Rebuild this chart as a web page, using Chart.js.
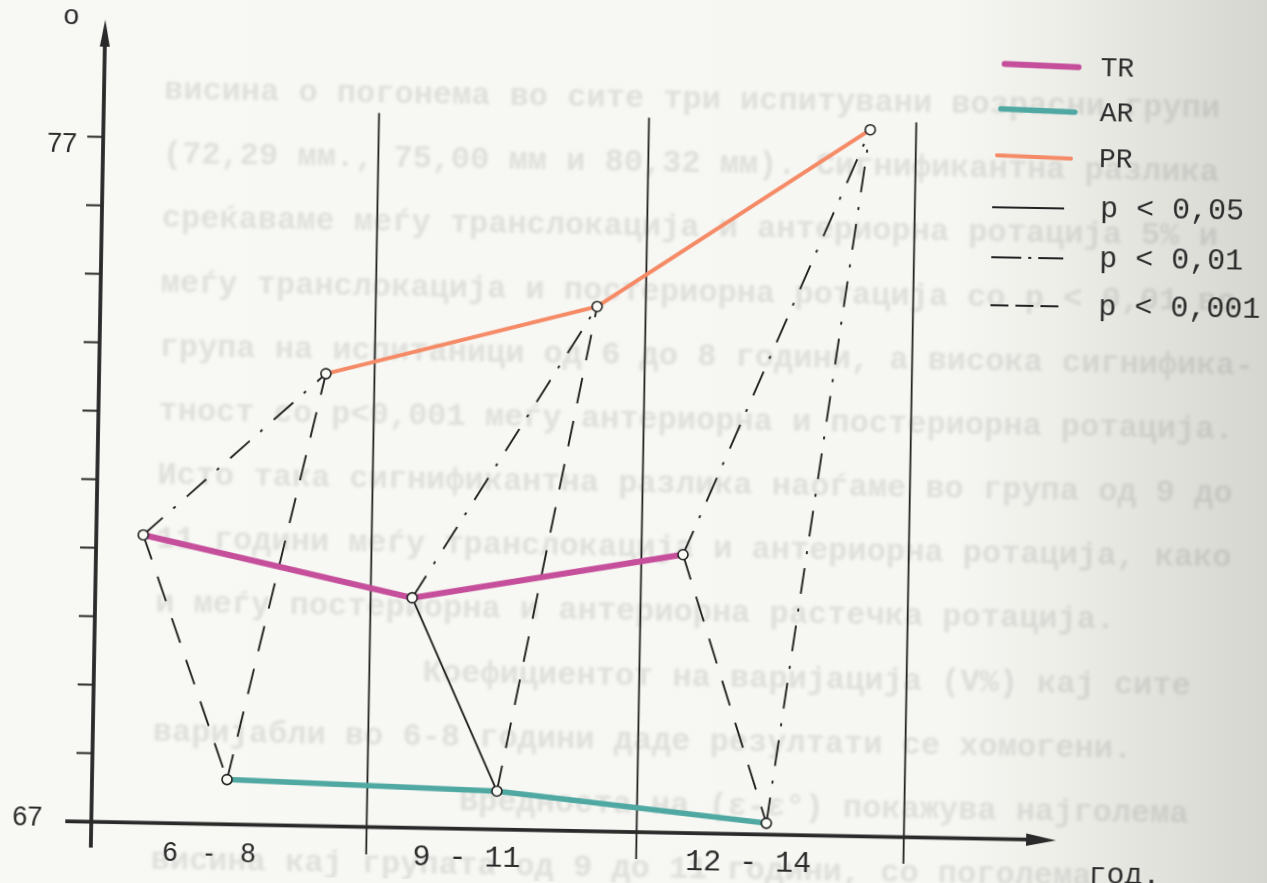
<!DOCTYPE html>
<html><head><meta charset="utf-8">
<script src="https://cdn.jsdelivr.net/npm/chart.js@4.4.1/dist/chart.umd.min.js"></script>
<style>
html,body{margin:0;padding:0;width:1267px;height:883px;overflow:hidden;
background:linear-gradient(90deg,#f8f8f4 0px,#f6f6f2 950px,#eeeee9 1060px,#e2e2dd 1160px,#d6d6d1 1267px);}
#c{position:absolute;left:0;top:0;transform:rotate(1deg);transform-origin:633.5px 441.5px;}
</style></head><body>
<canvas id="c" width="1267" height="883"></canvas>
<script>
// ---- data ----
const groups = ['6 - 8', '9 - 11', '12 - 14'];
const seriesNames = ['TR', 'AR', 'PR'];
const TR = [71.2, 70.35, 71.05];
const AR = [67.65, 67.55, 67.15];
const PR = [73.6, 74.65, 77.3];
const yTicks = [67, 68, 69, 70, 71, 72, 73, 74, 75, 76, 77];
const yTickLabels = ['67', '77'];
const yUnit = 'o';
const xUnit = 'год.';
const pLevels = ['p < 0,05', 'p < 0,01', 'p < 0,001'];
// significance of each pair per group (index into pLevels)
const sigTRAR = [2, 0, 2];
const sigTRPR = [1, 1, 1];
const sigARPR = [2, 2, 1];
const bgLines = [
  'висина о погонема во сите три испитувани возрасни групи',
  '(72,29 мм., 75,00 мм и 80,32 мм). Сигнификантна разлика',
  'среќаваме меѓу транслокација и антериорна ротација 5% и',
  'меѓу транслокација и постериорна ротација со р < 0,01 во',
  'група на испитаници од 6 до 8 години, а висока сигнифика-',
  'тност со р<0,001 меѓу антериорна и постериорна ротација.',
  'Исто така сигнификантна разлика наоѓаме во група од 9 до',
  '11 години меѓу транслокација и антериорна ротација, како',
  'и меѓу постериорна и антериорна растечка ротација.',
  '              Коефициентот на варијација (V%) кај сите',
  'варијабли во 6-8 години даде резултати се хомогени.',
  '                Вредноста на (ε-ε°) покажува најголема',
  'висина кај групата од 9 до 11 години, со поголема'
];

// ---- layout / style ----
const X_OFF = {TR: 0.174, AR: 0.5, PR: 0.84};
const SEPARATORS = [1.02, 2.02, 3.01];
const GROUP_LABEL_X = [0.438, 1.392, 2.435];
const GROUP_LABEL_SANS = [true, false, false];
const COLORS = {TR: '#c64f9c', AR: '#4fa8a2', PR: '#f58a66'};
const WIDTHS = {TR: 6, AR: 5.5, PR: 4};
const DASH = [[], [26, 14, 3, 15], [26, 18]];
const LEGEND_DASH = [[], [30, 7, 3, 7], [18, 7]];
const INK = '#222';
const seriesData = {TR, AR, PR};
const xOf = (n, i) => i + X_OFF[n];

const datasets = [];
seriesNames.forEach(n => datasets.push({
  label: n,
  data: groups.map((g, i) => ({x: xOf(n, i), y: seriesData[n][i]})),
  borderColor: COLORS[n], borderWidth: WIDTHS[n], tension: 0, fill: false,
  pointRadius: 5, pointHoverRadius: 5, pointBackgroundColor: '#fafaf6',
  pointBorderColor: INK, pointBorderWidth: 1.6, order: 0
}));
const pairs = [['TR', 'AR', sigTRAR], ['TR', 'PR', sigTRPR], ['AR', 'PR', sigARPR]];
groups.forEach((g, i) => pairs.forEach(([a, b, sig]) => datasets.push({
  label: a + '-' + b + ' ' + g,
  data: [{x: xOf(a, i), y: seriesData[a][i]}, {x: xOf(b, i), y: seriesData[b][i]}],
  borderColor: INK, borderWidth: 1.9, borderDash: DASH[sig[i]],
  pointRadius: 0, pointHoverRadius: 0, order: 1, tension: 0, fill: false
})));

const decor = {
  id: 'decor',
  beforeDraw(chart) {
    const ctx = chart.ctx;
    ctx.save();
    ctx.font = 'bold 32px "Liberation Mono"';
    ctx.fillStyle = 'rgba(60,60,60,0.13)';
    ctx.filter = 'blur(1.4px)';
    ctx.textAlign = 'left'; ctx.textBaseline = 'alphabetic';
    bgLines.forEach((t, i) => ctx.fillText(t, 158, 107 + 64.17 * i));
    ctx.restore();
  },
  beforeDatasetsDraw(chart) {
    const {ctx, scales: {x: xs, y: ys}} = chart;
    const x0 = xs.getPixelForValue(0), y67 = ys.getPixelForValue(yTicks[0]);
    ctx.save();
    // separators
    ctx.strokeStyle = INK; ctx.lineWidth = 1.8;
    SEPARATORS.forEach(s => {
      const px = xs.getPixelForValue(s);
      ctx.beginPath(); ctx.moveTo(px, ys.getPixelForValue(77.42)); ctx.lineTo(px, y67 + 28); ctx.stroke();
    });
    // y axis
    ctx.strokeStyle = '#2a2a2a'; ctx.fillStyle = '#2a2a2a'; ctx.lineWidth = 3.8;
    ctx.beginPath(); ctx.moveTo(x0, y67 + 26); ctx.lineTo(x0, 50); ctx.stroke();
    ctx.beginPath(); ctx.moveTo(x0, 29); ctx.lineTo(x0 + 5, 56); ctx.lineTo(x0 - 5, 56); ctx.closePath(); ctx.fill();
    // y ticks
    ctx.lineWidth = 2;
    yTicks.slice(1).forEach(v => {
      const py = ys.getPixelForValue(v);
      ctx.beginPath(); ctx.moveTo(x0 - 16, py); ctx.lineTo(x0, py); ctx.stroke();
    });
    // x axis
    ctx.lineWidth = 3.8;
    const xEnd = 1063;
    ctx.beginPath(); ctx.moveTo(72, y67); ctx.lineTo(xEnd - 20, y67 + 1.5); ctx.stroke();
    ctx.beginPath(); ctx.moveTo(xEnd, y67 + 2); ctx.lineTo(xEnd - 30, y67 - 4.5); ctx.lineTo(xEnd - 30, y67 + 8); ctx.closePath(); ctx.fill();
    ctx.restore();
  },
  afterDatasetsDraw(chart) {
    const {ctx, scales: {x: xs, y: ys}} = chart;
    const x0 = xs.getPixelForValue(0), y67 = ys.getPixelForValue(yTicks[0]);
    const y77 = ys.getPixelForValue(yTicks[yTicks.length - 1]);
    ctx.save();
    ctx.fillStyle = '#2c2c2c';
    // y labels
    ctx.font = '27px "Liberation Sans"'; ctx.textAlign = 'right'; ctx.textBaseline = 'middle';
    ctx.fillText(yTickLabels[1], x0 - 26, y77 + 8);
    ctx.fillText(yTickLabels[0], x0 - 49, y67 - 3);
    ctx.font = '28px "Liberation Sans"'; ctx.textAlign = 'center';
    ctx.fillText(yUnit, x0 - 34, 26);
    // group labels
    groups.forEach((g, i) => {
      const cx = xs.getPixelForValue(GROUP_LABEL_X[i]);
      const cy = y67 + 30;
      ctx.textAlign = 'center'; ctx.textBaseline = 'middle';
      if (GROUP_LABEL_SANS[i]) {
        ctx.font = '27px "Liberation Sans"';
        const parts = g.split(' - ');
        ctx.fillText(parts[0], cx - 39, cy);
        ctx.fillText('-', cx, cy);
        ctx.fillText(parts[1], cx + 39, cy);
      } else {
        ctx.font = '30px "Liberation Mono"';
        ctx.fillText(g, cx, cy);
      }
    });
    ctx.font = '30px "Liberation Mono"'; ctx.textAlign = 'center'; ctx.textBaseline = 'alphabetic';
    ctx.fillText(xUnit, 1132, y67 + 44);
    // legend
    const lx1 = 992, lx2 = 1066, tx = 1094;
    const rowsY = [57.5, 102.5, 149, 201, 251, 299];
    ctx.textAlign = 'left'; ctx.textBaseline = 'middle';
    seriesNames.forEach((n, k) => {
      ctx.strokeStyle = COLORS[n]; ctx.lineWidth = WIDTHS[n]; ctx.setLineDash([]); ctx.lineCap = 'round';
      ctx.beginPath(); ctx.moveTo(lx1 + 6 - 3 * k, rowsY[k]); ctx.lineTo(lx2 + 6 - 3 * k, rowsY[k] + 2); ctx.stroke();
      ctx.font = '28px "Liberation Mono"';
      ctx.fillText(n, tx, rowsY[k] + 3);
    });
    ctx.lineCap = 'butt';
    pLevels.forEach((p, k) => {
      const yy = rowsY[3 + k];
      ctx.strokeStyle = INK; ctx.lineWidth = 2; ctx.setLineDash(LEGEND_DASH[k]);
      ctx.beginPath(); ctx.moveTo(lx1 - 4, yy); ctx.lineTo(lx2 - 6, yy); ctx.stroke();
      ctx.setLineDash([]);
      ctx.font = '30px "Liberation Mono"';
      ctx.fillText(p, tx + 2, yy);
    });
    ctx.restore();
  }
};

new Chart(document.getElementById('c'), {
  type: 'line',
  data: {datasets},
  options: {
    responsive: false, animation: false, devicePixelRatio: 1,
    layout: {padding: {left: 17, right: 143, top: 43.5, bottom: 17.65}},
    scales: {
      x: {type: 'linear', display: false, min: -0.3, max: 3.8},
      y: {type: 'linear', display: false, min: 66.5, max: 78.5}
    },
    plugins: {legend: {display: false}, tooltip: {enabled: false}},
    elements: {line: {capBezierPoints: false}}
  },
  plugins: [decor]
});
</script>
</body></html>
